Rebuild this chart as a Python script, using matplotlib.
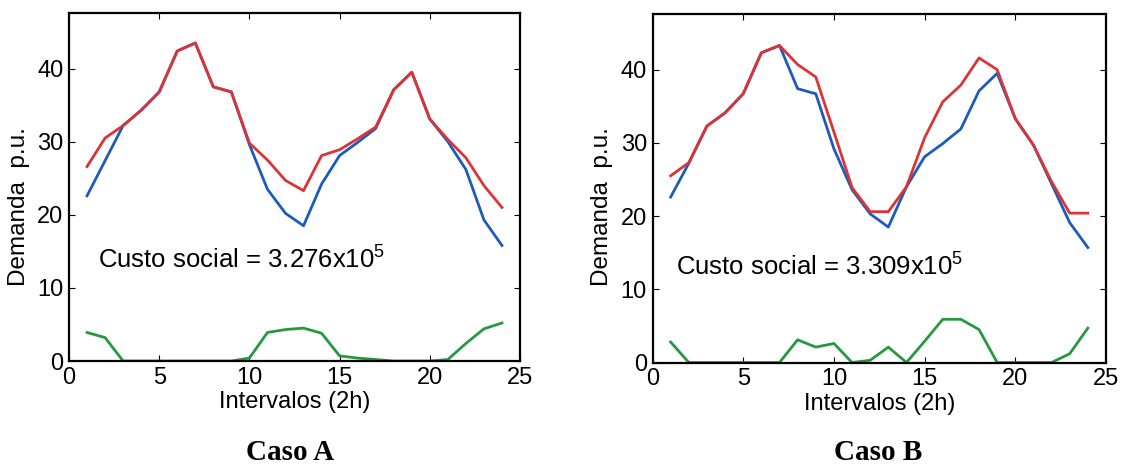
import matplotlib
matplotlib.use("Agg")
import matplotlib.pyplot as plt

plt.rcParams['font.family'] = ['Liberation Sans', 'DejaVu Sans']
plt.rcParams['mathtext.fontset'] = 'custom'
plt.rcParams['mathtext.rm'] = 'Liberation Sans'
plt.rcParams['mathtext.it'] = 'Liberation Sans'

intervals = list(range(1, 25))

# Caso A
demand_a_red = [26.6, 30.5, 32.2, 34.3, 36.8, 42.4, 43.5, 37.5, 36.8, 29.8, 27.5, 24.7,
                23.3, 28.1, 28.9, 30.4, 32.0, 37.1, 39.5, 33.1, 30.3, 27.8, 24.0, 21.0]
demand_a_blue = [22.6, 27.4, 32.2, 34.3, 36.8, 42.4, 43.5, 37.5, 36.8, 29.6, 23.5, 20.2,
                 18.5, 24.2, 28.1, 29.9, 31.8, 37.1, 39.5, 33.1, 30.0, 26.2, 19.3, 15.8]
demand_a_green = [3.9, 3.2, 0.0, 0.0, 0.0, 0.0, 0.0, 0.0, 0.0, 0.4, 3.9, 4.3,
                  4.5, 3.8, 0.7, 0.4, 0.2, 0.0, 0.0, 0.0, 0.2, 2.4, 4.4, 5.2]

# Caso B
demand_b_red = [25.5, 27.3, 32.3, 34.1, 36.7, 42.3, 43.3, 40.7, 39.0, 31.5, 23.9, 20.6,
                20.6, 24.0, 30.7, 35.6, 37.9, 41.6, 40.0, 33.3, 29.7, 24.7, 20.4, 20.4]
demand_b_blue = [22.6, 27.2, 32.3, 34.1, 36.7, 42.3, 43.3, 37.4, 36.7, 29.2, 23.6, 20.3,
                 18.5, 24.0, 28.1, 29.9, 31.9, 37.1, 39.5, 33.3, 29.7, 24.4, 19.1, 15.7]
demand_b_green = [2.8, 0.0, 0.0, 0.0, 0.0, 0.0, 0.0, 3.1, 2.1, 2.6, 0.0, 0.3,
                  2.1, 0.0, 2.9, 5.9, 5.9, 4.5, 0.0, 0.0, 0.0, 0.0, 1.2, 4.7]

cost_a = "3.276"
cost_b = "3.309"
x_ticks = [0, 5, 10, 15, 20, 25]
y_ticks = [0, 10, 20, 30, 40]

RED = '#dc3336'
BLUE = '#1c5bbd'
GREEN = '#26993f'

fig = plt.figure(figsize=(11.21, 4.69), dpi=100)
W, H = 1121, 469


def make_axes(left, right, top, bottom):
    return fig.add_axes([left / W, 1 - bottom / H, (right - left) / W, (bottom - top) / H])


panels = [
    (make_axes(69, 520, 13, 361), demand_a_red, demand_a_blue, demand_a_green, cost_a,
     (1.6, 12.7), 19, 'Caso A', 290),
    (make_axes(652.5, 1106, 14, 362.5), demand_b_red, demand_b_blue, demand_b_green, cost_b,
     (1.3, 11.9), 602, 'Caso B', 878),
]

for ax, red, blue, green, cost, tpos, ylab_x, caption, cap_x in panels:
    ax.plot(intervals, blue, color=BLUE, lw=2.0)
    ax.plot(intervals, red, color=RED, lw=2.0)
    ax.plot(intervals, green, color=GREEN, lw=2.0)
    ax.set_xlim(0, 25)
    ax.set_ylim(0, 47.6)
    ax.set_xticks(x_ticks)
    ax.set_yticks(y_ticks)
    ax.tick_params(direction='in', length=4, width=0.8, labelsize=17,
                   top=True, right=True, pad=4)
    for s in ax.spines.values():
        s.set_linewidth(1.6)
    ax.set_xlabel('Intervalos (2h)', fontsize=17, labelpad=2)
    ax.text(tpos[0], tpos[1], 'Custo social = ' + cost + r'x10$^5$', fontsize=18.5,
            ha='left', va='baseline')
    fig.text(ylab_x / W, 1 - 207 / H, 'Demanda  p.u.', rotation=90, fontsize=17.5,
             ha='center', va='center')
    fig.text(cap_x / W, 1 - 452 / H, caption, fontsize=21, fontweight='bold',
             family='Liberation Serif', ha='center', va='center')

fig.savefig('out.png', dpi=100, facecolor='white')
